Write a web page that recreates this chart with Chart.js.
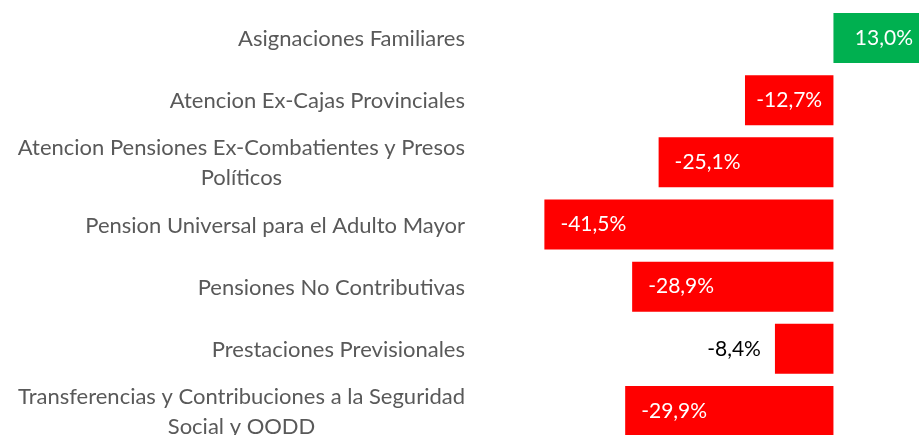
<!DOCTYPE html>
<html>
<head>
<meta charset="utf-8">
<script src="https://cdn.jsdelivr.net/npm/chart.js@4/dist/chart.umd.min.js"></script>
<style>
  html, body { margin: 0; padding: 0; background: #fff; overflow: hidden; }
  #wrap { width: 919px; height: 435px; overflow: hidden; }
</style>
</head>
<body>
<div id="wrap"><canvas id="chart" width="924" height="442"></canvas></div>
<script>
const categories = [
    'Asignaciones Familiares',
    'Atencion Ex-Cajas Provinciales',
    ['Atencion Pensiones Ex-Combatientes y Presos', 'Políticos'],
    'Pension Universal para el Adulto Mayor',
    'Pensiones No Contributivas',
    'Prestaciones Previsionales',
    ['Transferencias y Contribuciones a la Seguridad', 'Social y OODD']
];
const variation = [13.0, -12.7, -25.1, -41.5, -28.9, -8.4, -29.9];

const GREEN = '#00B050';
const RED = '#FF0000';
const FONT = 'Lato, "Open Sans", sans-serif';

const fmt = v => v.toFixed(1).replace('.', ',') + '%';

// category names: block right aligned, wrapped lines centred on each other (like excel)
const categoryLabels = {
    id: 'categoryLabels',
    afterDraw(chart) {
        const ctx = chart.ctx;
        const yScale = chart.scales.y;
        const right = chart.chartArea.left - 55;
        const lineH = 30;
        ctx.save();
        ctx.font = '22px ' + FONT;
        ctx.fillStyle = '#595959';
        ctx.textAlign = 'center';
        ctx.textBaseline = 'middle';
        categories.forEach((cat, i) => {
            const lines = Array.isArray(cat) ? cat : [cat];
            const widest = Math.max(...lines.map(l => ctx.measureText(l).width));
            const cx = right - widest / 2;
            const yc = yScale.getPixelForTick(i);
            const y0 = yc - (lines.length - 1) * lineH / 2;
            lines.forEach((l, j) => ctx.fillText(l, cx, y0 + j * lineH + 1));
        });
        ctx.restore();
    }
};

// draws the value labels like excel's "inside end"
const barLabels = {
    id: 'barLabels',
    afterDatasetsDraw(chart) {
        const ctx = chart.ctx;
        const meta = chart.getDatasetMeta(0);
        ctx.save();
        ctx.font = '21px ' + FONT;
        ctx.textBaseline = 'middle';
        meta.data.forEach((bar, i) => {
            const v = variation[i];
            const { x, y, base } = bar.getProps(['x', 'y', 'base'], true);
            const text = fmt(v);
            const w = ctx.measureText(text).width;
            const len = Math.abs(x - base);
            if (len < w + 10) {
                // does not fit, put it outside in black
                ctx.fillStyle = '#000';
                ctx.textAlign = 'right';
                ctx.fillText(text, x - 14, y);
                return;
            }
            ctx.fillStyle = '#fff';
            if (v < 0) {
                const center = (x + base) / 2;
                ctx.textAlign = 'left';
                ctx.fillText(text, Math.min(x + 16, center - w / 2), y);
            } else {
                ctx.textAlign = 'right';
                ctx.fillText(text, x - 11, y);
            }
        });
        ctx.restore();
    }
};

new Chart(document.getElementById('chart'), {
    type: 'bar',
    data: {
        labels: categories,
        datasets: [{
            data: variation,
            backgroundColor: variation.map(v => v >= 0 ? GREEN : RED),
            borderWidth: 0,
            categoryPercentage: 1,
            barPercentage: 0.805
        }]
    },
    options: {
        indexAxis: 'y',
        responsive: false,
        animation: false,
        layout: { padding: { top: 7, bottom: 0, left: 0, right: 0 } },
        plugins: {
            legend: { display: false },
            tooltip: { enabled: false }
        },
        scales: {
            x: {
                display: false,
                min: -45,
                max: 13
            },
            y: {
                grid: { display: false, drawTicks: false },
                border: { display: false },
                ticks: { display: false },
                afterFit(scale) {
                    scale.width = 520;
                    scale.paddingTop = 0;
                    scale.paddingBottom = 0;
                }
            }
        }
    },
    plugins: [barLabels, categoryLabels]
});
</script>
</body>
</html>
